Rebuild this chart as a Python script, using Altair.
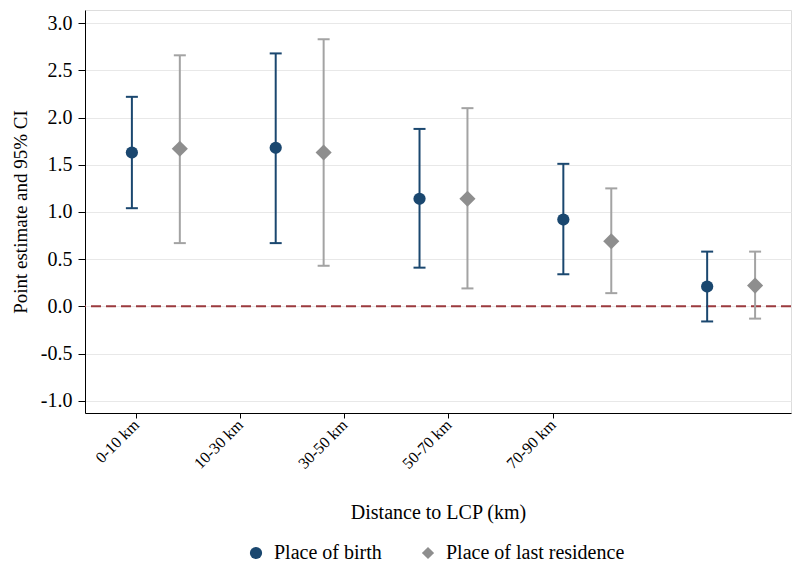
import altair as alt
import pandas as pd

categories = ["0-10 km", "10-30 km", "30-50 km", "50-70 km", "70-90 km"]
series = ["Place of birth", "Place of last residence"]

birth_est = [1.63, 1.68, 1.14, 0.92, 0.21]
birth_lo = [1.04, 0.67, 0.41, 0.34, -0.16]
birth_hi = [2.22, 2.68, 1.88, 1.51, 0.58]

res_est = [1.67, 1.63, 1.14, 0.69, 0.22]
res_lo = [0.67, 0.43, 0.19, 0.14, -0.13]
res_hi = [2.66, 2.83, 2.10, 1.25, 0.58]

y_ticks = [-1.0, -0.5, 0.0, 0.5, 1.0, 1.5, 2.0, 2.5, 3.0]

# layout constants (styling)
series_offset = [0.0, 1 / 3]
tick_start, tick_step = 1.028, 0.7245
tick_pos = [round(tick_start + i * tick_step, 4) for i in range(len(categories))]

rows = []
for s_i, (est, lo, hi) in enumerate([(birth_est, birth_lo, birth_hi), (res_est, res_lo, res_hi)]):
    for c_i, cat in enumerate(categories):
        rows.append({
            "series": series[s_i],
            "category": cat,
            "pos": c_i + 1 + series_offset[s_i],
            "est": est[c_i],
            "lo": lo[c_i],
            "hi": hi[c_i],
        })
df = pd.DataFrame(rows)

# label expression for x ticks
expr = "''"
for p, lab in reversed(list(zip(tick_pos, categories))):
    expr = f"abs(datum.value - {p}) < 0.01 ? '{lab}' : ({expr})"

FONT = "Liberation Serif"
NAVY = "#1a476f"
GRAY = "#8e8e8e"
GRAY_L = "#a3a3a3"

xscale = alt.Scale(domain=[0.674, 5.583], nice=False, zero=False)
yscale = alt.Scale(domain=[-1.13, 3.14], nice=False, zero=False)

base = alt.Chart(df)
is_birth = alt.datum.series == series[0]

x_enc = alt.X("pos:Q", scale=xscale, axis=alt.Axis(
    values=tick_pos, labelExpr=expr, title="Distance to LCP (km)",
    labelAngle=315, labelAlign="right", labelBaseline="middle",
    labelFontSize=16, titleFontSize=20, labelFont=FONT, titleFont=FONT,
    labelColor="#000", titleColor="#000", titleFontWeight="normal",
    grid=False, domainColor="#000", tickColor="#000", tickSize=5,
    labelPadding=4, titlePadding=31, labelOverlap=False, labelFlush=False))

y_enc = alt.Y("lo:Q", scale=yscale, axis=alt.Axis(
    values=y_ticks,
    labelExpr="(datum.value < 0 ? '-' : '') + format(abs(datum.value), '.1f')",
    title="Point estimate and 95% CI",
    labelFontSize=20, titleFontSize=19, labelFont=FONT, titleFont=FONT,
    labelColor="#000", titleColor="#000", titleFontWeight="normal",
    grid=True, gridColor="#e8e8e8", gridWidth=1,
    domainColor="#000", tickColor="#000", tickSize=7, labelPadding=6,
    titlePadding=10))

rule_stroke = alt.condition(is_birth, alt.value(NAVY), alt.value(GRAY_L))

ci = base.mark_rule(strokeWidth=2).encode(
    x=x_enc, y=y_enc, y2="hi:Q", stroke=rule_stroke)

cap_lo = base.mark_rule(strokeWidth=2, xOffset=-6, x2Offset=6).encode(
    x="pos:Q", x2="pos:Q", y="lo:Q", stroke=rule_stroke)
cap_hi = base.mark_rule(strokeWidth=2, xOffset=-6, x2Offset=6).encode(
    x="pos:Q", x2="pos:Q", y="hi:Q", stroke=rule_stroke)

legend = alt.Legend(
    title=None, orient="none", direction="horizontal", legendX=161, legendY=533,
    labelFont=FONT, labelFontSize=20, labelColor="#000", symbolSize=150,
    columnPadding=36, labelOffset=8, labelLimit=0)

points = base.mark_point(filled=True, opacity=1, strokeWidth=0).encode(
    x="pos:Q", y="est:Q",
    color=alt.Color("series:N", scale=alt.Scale(domain=series, range=[NAVY, GRAY]), legend=legend),
    shape=alt.Shape("series:N", scale=alt.Scale(domain=series, range=["circle", "diamond"]), legend=legend),
    size=alt.condition(is_birth, alt.value(150), alt.value(260)),
)

zero = alt.Chart(pd.DataFrame({"z": [0.0]})).mark_rule(
    color="#9b3a3e", strokeWidth=2, strokeDash=[10, 5]).encode(y="z:Q")

chart = alt.layer(zero, ci, cap_lo, cap_hi, points).properties(
    width=706, height=403,
    autosize=alt.AutoSizeParams(type="none"),
    padding={"left": 77, "top": 2, "right": 2, "bottom": 150},
).configure_view(stroke=None).configure(background="white")

chart.save("out.html", embed_options={"renderer": "svg", "actions": False})
